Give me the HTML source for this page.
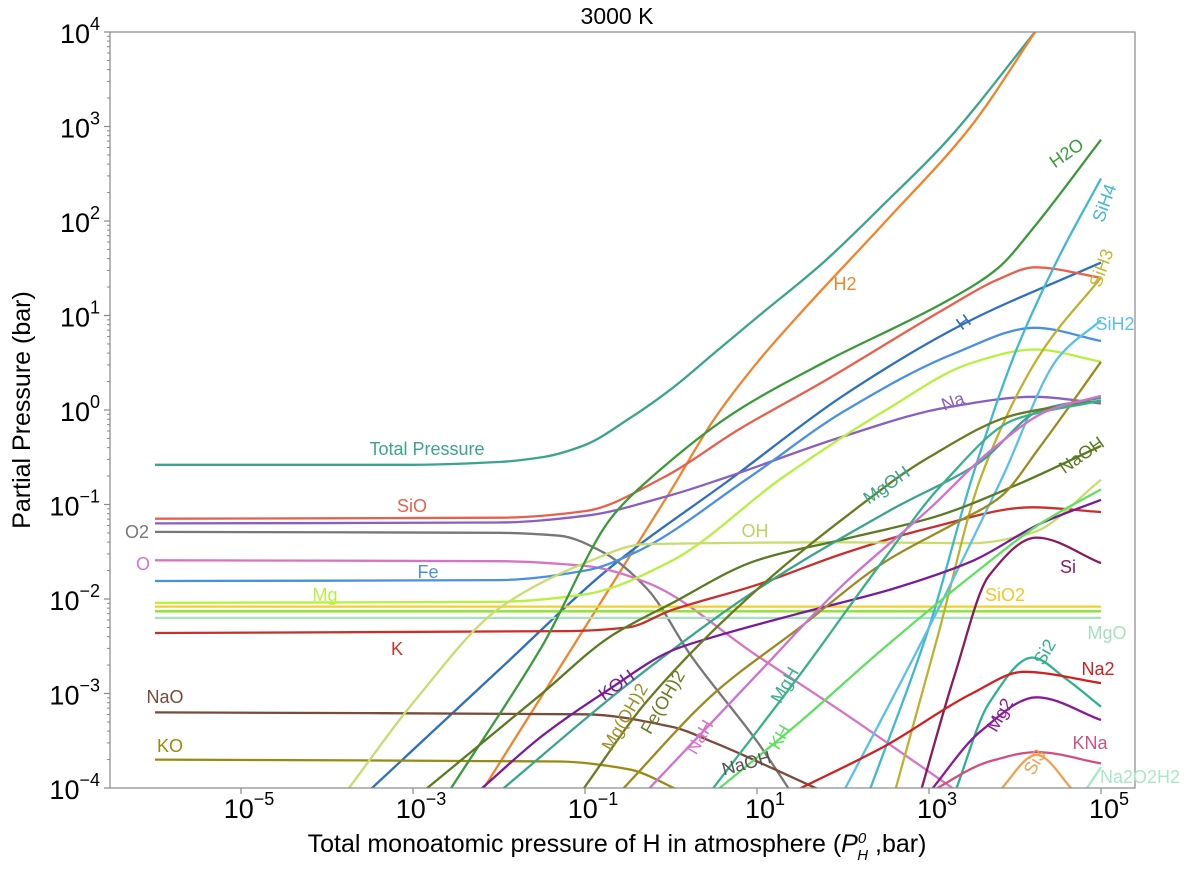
<!DOCTYPE html>
<html><head><meta charset="utf-8"><style>
body{margin:0;background:#fff;}
svg{display:block;font-family:"Liberation Sans","DejaVu Sans",sans-serif;}
</style></head><body>
<svg id="chart" width="1200" height="870" viewBox="0 0 1200 870" xmlns="http://www.w3.org/2000/svg">
<defs><clipPath id="pc"><rect x="110" y="32" width="1025" height="756"/></clipPath></defs>
<text x="617" y="24" font-size="23" text-anchor="middle">3000 K</text>
<g id="curves" clip-path="url(#pc)"></g>
<rect x="110" y="32" width="1025" height="756" fill="none" stroke="#888" stroke-width="1.2"/>
<g id="axes"></g>
<g id="labels" font-size="18"></g>
<text x="617" y="852" font-size="25" text-anchor="middle">Total monoatomic pressure of H in atmosphere (<tspan font-style="italic">P</tspan><tspan font-size="15" dy="-9" font-style="italic">0</tspan><tspan font-size="15" dx="-9" dy="17" font-style="italic">H</tspan><tspan dy="-8"> ,bar)</tspan></text>
<text transform="translate(30,410) rotate(-90)" font-size="25" text-anchor="middle">Partial Pressure (bar)</text>
</svg>
<script>
const xTicks=[-5,-3,-1,1,3,5];
const yTicks=[-4,-3,-2,-1,0,1,2,3,4];
const seriesNames=["Total","H2","H","SiO","Na","O2","O","Fe","Mg","SiO2","SiO2b","MgO","K","NaO","KO","OH","H2O","SiH4","SiH3","SiH2","Si","NaOH","MgOH","KOH","MgOH2","FeOH2","MgH","NaH","KH","Si2","Na2","Mg2","KNa","Si3","Na2O2H2"];
const seriesColors=["#3aa58c","#f0842c","#2e6fbf","#e8604c","#8a5fc0","#777","#d873c4","#4a90e2","#b8f040","#f0d030","#90e030","#a8e0c0","#c8302c","#7a4a3a","#9a8a10","#c8dc70","#3a9a3a","#40b8d0","#c0b030","#5bc0e8","#8a1a5a","#5a7a20","#3aa58c","#7a1a9a","#6a7a20","#9a8a20","#3ab08a","#d070d0","#60e060","#30b090","#d02020","#8a1a9a","#d05080","#f0a050","#a8e8c8"];
const sTotal=[[-6,-0.58],[-3,-0.58],[-2,-0.55],[-1.5,-0.5],[-1,-0.37],[-0.5,-0.1],[0,0.22],[0.5,0.6],[1,0.98],[1.77,1.56],[2.5,2.2],[3.22,2.86],[4.25,4.02]];
const sH2=[[-2.19,-4.02],[-1,-2.3],[0,-0.85],[0.5,-0.1],[1,0.5],[1.53,1.05],[2.5,2.0],[3.47,2.98],[4.25,4.02]];
const sH=[[-3.5,-4.02],[-2,-2.75],[-0.71,-1.67],[0.71,-0.72],[2,0.15],[3.42,0.92],[5,1.56]];
const sSiO=[[-6,-1.15],[-2,-1.14],[-1,-1.07],[-0.1,-0.72],[0.8,-0.2],[1.77,0.3],[3.22,1.09],[3.8,1.38],[4.23,1.51],[5,1.4]];
const sNa=[[-6,-1.2],[-2,-1.19],[-1,-1.12],[0,-0.9],[0.62,-0.72],[2,-0.28],[3.22,0.03],[4.23,0.14],[5,0.07]];
const sO2=[[-6,-1.29],[-2,-1.3],[-1.3,-1.33],[-0.8,-1.5],[-0.27,-1.9],[0.24,-2.61],[1.01,-3.52],[1.4,-4.05]];
const sO=[[-6,-1.59],[-2,-1.6],[-1,-1.65],[-0.27,-1.83],[1,-2.6],[2,-3.2],[3.35,-4.05]];
const sFe=[[-6,-1.81],[-2,-1.8],[-1,-1.7],[-0.4,-1.5],[0.9,-0.72],[2,-0.02],[3.3,0.6],[4.23,0.87],[5,0.73]];
const sMg=[[-6,-2.04],[-2,-2.03],[-1,-1.95],[0,-1.6],[1.29,-0.72],[2.5,0.0],[3.5,0.5],[4.23,0.64],[5,0.51]];
const sSiO2=[[-6,-2.08],[5,-2.08]];
const sSiO2b=[[-6,-2.13],[5,-2.13]];
const sMgO=[[-6,-2.2],[5,-2.2]];
const sK=[[-6,-2.36],[-1.2,-2.34],[-0.5,-2.3],[0,-2.12],[1,-1.85],[2,-1.52],[3,-1.25],[4.2,-1.03],[5,-1.08]];
const sNaO=[[-6,-3.2],[-1,-3.22],[0,-3.35],[0.5,-3.52],[1.2,-3.8],[1.8,-4.05]];
const sKO=[[-6,-3.7],[-1.3,-3.72],[-0.5,-3.8],[0.15,-4.05]];
const sOH=[[-3.76,-4.02],[-3,-3.1],[-2,-2.1],[-1,-1.62],[-0.3,-1.42],[2,-1.4],[3.5,-1.41],[4.2,-1.3],[5,-0.74]];
const sH2O=[[-2.57,-4.02],[-1.5,-2.5],[-0.71,-1.16],[-0.26,-0.74],[0.7,-0.05],[1.77,0.5],[3.22,1.16],[3.8,1.5],[4.19,1.9],[5,2.86]];
const sSiH4=[[2.3,-4.05],[3,-2.3],[3.5,-0.72],[4,0.6],[4.5,1.6],[5,2.45]];
const sSiH3=[[2.6,-4.05],[3.1,-2.4],[3.6,-0.72],[4.3,0.6],[5,1.4]];
const sSiH2=[[2.0,-4.05],[3,-2.3],[3.85,-0.72],[4.5,0.55],[5,0.95]];
const sSi=[[2.9,-4.05],[3.3,-2.8],[3.7,-1.75],[4.25,-1.35],[5,-1.62]];
const sNaOH=[[-2.86,-4.02],[-1.5,-3.0],[-0.71,-2.4],[0,-2.05],[1,-1.59],[2,-1.37],[3.07,-1.13],[4,-0.8],[5,-0.38]];
const sMgOH=[[-1.97,-4.02],[-0.5,-2.9],[1,-1.9],[2.55,-1.06],[3.58,-0.56],[4.3,0.0],[5,0.13]];
const sKOH=[[-2.22,-4.02],[-1.5,-3.45],[-0.71,-2.95],[0,-2.55],[0.5,-2.4],[1.5,-2.15],[2.55,-1.9],[3.5,-1.6],[4.3,-1.2],[5,-0.95]];
const sMgOH2=[[-1.05,-4.05],[-0.27,-3.07],[1,-1.9],[2.03,-1.13],[3,-0.5],[4,-0.05],[5,0.1]];
const sFeOH2=[[-0.6,-4.05],[0.5,-3.0],[1.5,-2.3],[2.5,-1.6],[3.3,-1.2],[3.83,-0.92],[4.29,-0.39],[5,0.51]];
const sMgH=[[0.45,-4.05],[1.5,-2.8],[2.5,-1.55],[3.16,-0.78],[4,-0.1],[5,0.1]];
const sNaH=[[-0.3,-4.05],[1,-2.8],[2,-1.85],[3,-1.05],[3.73,-0.42],[4.4,0.0],[5,0.15]];
const sKH=[[0.5,-4.05],[1.5,-3.3],[2.5,-2.5],[3.5,-1.75],[4.3,-1.2],[5,-0.84]];
const sSi2=[[3.3,-4.05],[3.7,-3.1],[4.2,-2.62],[4.6,-2.85],[5,-3.14]];
const sNa2=[[1.4,-4.05],[2.5,-3.55],[3.5,-3.0],[4.1,-2.77],[5,-2.89]];
const sMg2=[[3.0,-4.05],[3.6,-3.4],[4.25,-3.04],[5,-3.28]];
const sKNa=[[3.0,-4.05],[3.7,-3.72],[4.25,-3.62],[5,-3.74]];
const sSi3=[[3.8,-4.05],[4.25,-3.65],[4.7,-4.05]];
const sNa2O2H2=[[4.8,-4.05],[5,-3.78]];
const allSeries=[sTotal,sH2,sH,sSiO,sNa,sO2,sO,sFe,sMg,sSiO2,sSiO2b,sMgO,sK,sNaO,sKO,sOH,sH2O,sSiH4,sSiH3,sSiH2,sSi,sNaOH,sMgOH,sKOH,sMgOH2,sFeOH2,sMgH,sNaH,sKH,sSi2,sNa2,sMg2,sKNa,sSi3,sNa2O2H2];

const NS="http://www.w3.org/2000/svg";
function X(l){return 241+(l+5)*86;}
function Y(l){return 32+(4-l)*94.5;}
function pathFor(pts){
  const p=pts.map(d=>[X(d[0]),Y(d[1])]);
  const n=p.length;
  let s="M"+p[0][0].toFixed(1)+","+p[0][1].toFixed(1);
  if(n<3){for(let i=1;i<n;i++)s+=" L"+p[i][0].toFixed(1)+","+p[i][1].toFixed(1);return s;}
  const d=[],m=[];
  for(let i=0;i<n-1;i++)d.push((p[i+1][1]-p[i][1])/(p[i+1][0]-p[i][0]));
  m[0]=d[0];m[n-1]=d[n-2];
  for(let i=1;i<n-1;i++){m[i]=(d[i-1]*d[i]<=0)?0:2/(1/d[i-1]+1/d[i]);}
  for(let i=0;i<n-1;i++){
    const h=p[i+1][0]-p[i][0];
    const c1=[p[i][0]+h/3,p[i][1]+m[i]*h/3];
    const c2=[p[i+1][0]-h/3,p[i+1][1]-m[i+1]*h/3];
    s+=" C"+c1[0].toFixed(1)+","+c1[1].toFixed(1)+" "+c2[0].toFixed(1)+","+c2[1].toFixed(1)+" "+p[i+1][0].toFixed(1)+","+p[i+1][1].toFixed(1);
  }
  return s;
}
const g=document.getElementById("curves");
allSeries.forEach((pts,i)=>{
  const el=document.createElementNS(NS,"path");
  el.setAttribute("d",pathFor(pts));
  el.setAttribute("fill","none");
  el.setAttribute("stroke",seriesColors[i]);
  el.setAttribute("stroke-width","2.3");
  
  
  g.appendChild(el);
});
const ax=document.getElementById("axes");
function mk(tag,attrs){const e=document.createElementNS(NS,tag);for(const k in attrs)e.setAttribute(k,attrs[k]);return e;}
yTicks.forEach(t=>{
  const tk=mk("line",{x1:104,x2:110,y1:Y(t),y2:Y(t),stroke:"#888","stroke-width":1.2});
  
  
  ax.appendChild(tk);
  if(t<4){for(let m=2;m<10;m++){const yy=Y(t+Math.log10(m));const mn=mk("line",{x1:107,x2:110,y1:yy,y2:yy,stroke:"#888","stroke-width":1});
    
    
    ax.appendChild(mn);}}
  const tx=mk("text",{x:100,y:Y(t)+11,"font-size":27,"text-anchor":"end"});
  tx.innerHTML="10<tspan font-size='18' dy='-13'>"+(t<0?"\u2212"+(-t):t)+"</tspan>";
  
  
  ax.appendChild(tx);
});
xTicks.forEach(t=>{
  const tk=mk("line",{x1:X(t),x2:X(t),y1:788,y2:794,stroke:"#888","stroke-width":1.2});
  
  
  ax.appendChild(tk);
  const tx=mk("text",{x:X(t)+8,y:818,"font-size":27,"text-anchor":"middle"});
  tx.innerHTML="10<tspan font-size='18' dy='-13'>"+(t<0?"\u2212"+(-t):t)+"</tspan>";
  
  
  ax.appendChild(tx);
});
const labelItems=[
["Total Pressure",427,455,"#3aa58c",0],["SiO",412,512,"#e8604c",0],["O2",137,538,"#777",0],["O",143,570,"#d873c4",0],
["Fe",428,578,"#4a90e2",0],["Mg",325,601,"#b8f040",0],["K",397,655,"#c8302c",0],["NaO",165,703,"#7a4a3a",0],
["KO",170,752,"#9a8a10",0],["H2",845,290,"#f0842c",0],["H",967,327,"#2e6fbf",-35],["Na",955,407,"#8a5fc0",-20],
["OH",755,537,"#c0d060",0],["MgOH",890,490,"#3aa58c",-35],["SiO2",1005,601,"#f0c820",0],["MgO",1107,639,"#a8e0c0",0],
["Si",1068,573,"#8a1a5a",0],["NaOH",1085,460,"#5a7a20",-35],["H2O",1070,158,"#3a9a3a",-35],["SiH4",1110,205,"#40b8d0",-70],
["SiH3",1107,270,"#c8b830",-70],["SiH2",1115,330,"#5bc0e8",0],["KOH",620,690,"#7a1a9a",-35],["Mg(OH)2",630,720,"#a0902c",-60],
["Fe(OH)2",668,705,"#6a7a20",-60],["NaH",705,740,"#e070c0",-60],["MgH",790,688,"#3ab08a",-60],["KH",785,740,"#60e060",-60],
["NaOH",748,769,"#555",-15],["Si2",1050,655,"#30b090",-60],["Na2",1098,675,"#d02020",0],["Mg2",1005,718,"#8a1a9a",-60],
["KNa",1090,749,"#d05080",0],["Si3",1040,765,"#f0a050",-60],["Na2O2H2",1140,783,"#a8e8c8",0]];
const lg=document.getElementById("labels");
labelItems.forEach(l=>{
  const t=mk("text",{x:l[1],y:l[2],fill:l[3],"text-anchor":"middle",transform:"rotate("+l[4]+" "+l[1]+" "+l[2]+")"});
  t.textContent=l[0];
  
  
  lg.appendChild(t);
});
</script>
</body></html>
